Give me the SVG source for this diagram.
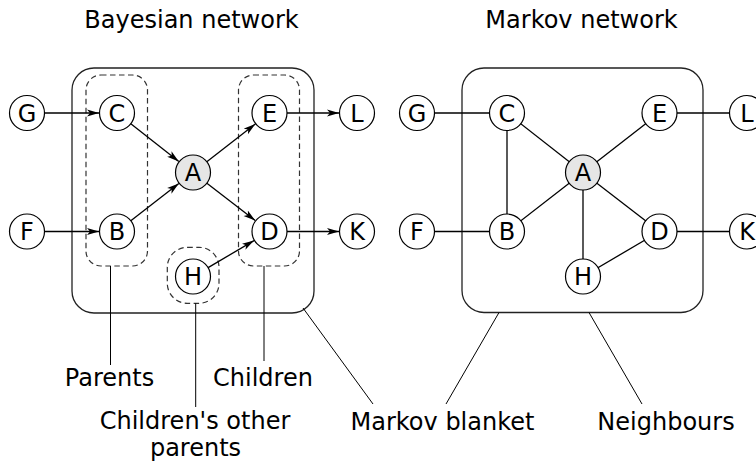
<svg xmlns="http://www.w3.org/2000/svg" width="756" height="464" viewBox="0 0 756 464">
<style>
text{font-family:"DejaVu Sans","Liberation Sans",sans-serif;font-size:24px;fill:#000;text-anchor:middle}
.node circle{fill:#fff;stroke:#000;stroke-width:1.2}
.node.q circle{fill:#e6e6e6}
.box{fill:none;stroke:#222;stroke-width:1.3}
.dash{fill:none;stroke:#333;stroke-width:1.2;stroke-dasharray:5.5,3.5}
.edge{stroke:#000;stroke-width:1.3;fill:none}
.ptr{stroke:#000;stroke-width:1;fill:none}
</style>
<defs>
<marker id="arr" viewBox="0 -4 12 8" refX="12" refY="0" markerWidth="12" markerHeight="8" markerUnits="userSpaceOnUse" orient="auto">
<path d="M0,-3.5 L12,0 L0,3.5 L3,0 z" fill="#000"/>
</marker>
</defs>

<g id="titles">
<text x="191.5" y="28">Bayesian network</text>
<text x="581.5" y="28">Markov network</text>
</g>

<g id="groups">
<rect class="box" x="72" y="68" width="242" height="245" rx="22"/>
<rect class="box" x="462" y="68" width="241" height="244.5" rx="22"/>
<rect class="dash" x="86" y="75" width="61.5" height="191" rx="15"/>
<rect class="dash" x="238.5" y="75" width="61" height="191" rx="15"/>
<rect class="dash" x="167.3" y="247.3" width="51.7" height="56" rx="20"/>
</g>

<g id="connectors">
<line class="edge" x1="44.5" y1="113" x2="99" y2="113" marker-end="url(#arr)"/>
<line class="edge" x1="44.5" y1="231.5" x2="99" y2="231.5" marker-end="url(#arr)"/>
<line class="edge" x1="287" y1="113" x2="339" y2="113" marker-end="url(#arr)"/>
<line class="edge" x1="287" y1="231.5" x2="339" y2="231.5" marker-end="url(#arr)"/>
<line class="edge" x1="130.8" y1="123.8" x2="178.8" y2="161.4" marker-end="url(#arr)"/>
<line class="edge" x1="130.8" y1="220.8" x2="178.8" y2="183.5" marker-end="url(#arr)"/>
<line class="edge" x1="206.8" y1="161.8" x2="255.3" y2="124.1" marker-end="url(#arr)"/>
<line class="edge" x1="206.9" y1="183.2" x2="255.2" y2="220.5" marker-end="url(#arr)"/>
<line class="edge" x1="208.1" y1="267.6" x2="254" y2="240.6" marker-end="url(#arr)"/>

<line class="edge" x1="417" y1="113" x2="507" y2="113"/>
<line class="edge" x1="417" y1="231.5" x2="507" y2="231.5"/>
<line class="edge" x1="507" y1="113" x2="507" y2="231.5"/>
<line class="edge" x1="507" y1="113" x2="583" y2="172.5"/>
<line class="edge" x1="507" y1="231.5" x2="583" y2="172.5"/>
<line class="edge" x1="583" y1="172.5" x2="659.5" y2="113"/>
<line class="edge" x1="583" y1="172.5" x2="659.5" y2="231.5"/>
<line class="edge" x1="583" y1="172.5" x2="583" y2="276.5"/>
<line class="edge" x1="583" y1="276.5" x2="659.5" y2="231.5"/>
<line class="edge" x1="659.5" y1="113" x2="747" y2="113"/>
<line class="edge" x1="659.5" y1="231.5" x2="747" y2="231.5"/>

<line class="ptr" x1="110.5" y1="266" x2="110.5" y2="365"/>
<line class="ptr" x1="264" y1="266" x2="264" y2="361"/>
<line class="ptr" x1="195.7" y1="303.3" x2="195.7" y2="407"/>
<line class="ptr" x1="303" y1="308" x2="373" y2="404"/>
<line class="ptr" x1="499" y1="312.5" x2="446" y2="404"/>
<line class="ptr" x1="589" y1="312.5" x2="642" y2="404"/>
</g>

<g id="bn-G" class="node"><circle cx="27" cy="113" r="17.5"/><text x="27" y="121.5">G</text></g>
<g id="bn-C" class="node"><circle cx="117" cy="113" r="17.5"/><text x="117" y="121.5">C</text></g>
<g id="bn-E" class="node"><circle cx="269.5" cy="113" r="17.5"/><text x="269.5" y="121.5">E</text></g>
<g id="bn-L" class="node"><circle cx="357" cy="113" r="17.5"/><text x="357" y="121.5">L</text></g>
<g id="bn-A" class="node q"><circle cx="193" cy="172.5" r="17.5"/><text x="193" y="181">A</text></g>
<g id="bn-F" class="node"><circle cx="27" cy="231.5" r="17.5"/><text x="27" y="240">F</text></g>
<g id="bn-B" class="node"><circle cx="117" cy="231.5" r="17.5"/><text x="117" y="240">B</text></g>
<g id="bn-D" class="node"><circle cx="269.5" cy="231.5" r="17.5"/><text x="269.5" y="240">D</text></g>
<g id="bn-K" class="node"><circle cx="357" cy="231.5" r="17.5"/><text x="357" y="240">K</text></g>
<g id="bn-H" class="node"><circle cx="193" cy="276.5" r="17.5"/><text x="193" y="285">H</text></g>

<g id="mn-G" class="node"><circle cx="417" cy="113" r="17.5"/><text x="417" y="121.5">G</text></g>
<g id="mn-C" class="node"><circle cx="507" cy="113" r="17.5"/><text x="507" y="121.5">C</text></g>
<g id="mn-E" class="node"><circle cx="659.5" cy="113" r="17.5"/><text x="659.5" y="121.5">E</text></g>
<g id="mn-L" class="node"><circle cx="747" cy="113" r="17.5"/><text x="747" y="121.5">L</text></g>
<g id="mn-A" class="node q"><circle cx="583" cy="172.5" r="17.5"/><text x="583" y="181">A</text></g>
<g id="mn-F" class="node"><circle cx="417" cy="231.5" r="17.5"/><text x="417" y="240">F</text></g>
<g id="mn-B" class="node"><circle cx="507" cy="231.5" r="17.5"/><text x="507" y="240">B</text></g>
<g id="mn-D" class="node"><circle cx="659.5" cy="231.5" r="17.5"/><text x="659.5" y="240">D</text></g>
<g id="mn-K" class="node"><circle cx="747" cy="231.5" r="17.5"/><text x="747" y="240">K</text></g>
<g id="mn-H" class="node"><circle cx="583" cy="276.5" r="17.5"/><text x="583" y="285">H</text></g>

<g id="labels">
<text x="109.5" y="386">Parents</text>
<text x="263" y="386">Children</text>
<text x="195" y="429">Children's other</text>
<text x="195.5" y="456">parents</text>
<text x="442.5" y="430">Markov blanket</text>
<text x="666" y="430">Neighbours</text>
</g>
</svg>
